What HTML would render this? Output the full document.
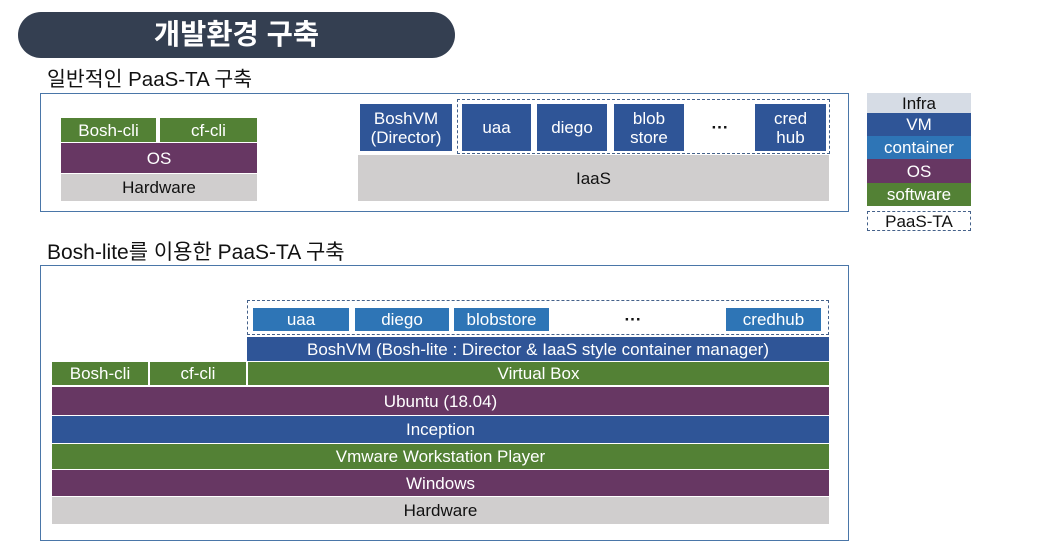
<!DOCTYPE html>
<html><head><meta charset="utf-8"><style>
body{margin:0;width:1063px;height:560px;background:#fff;position:relative;overflow:hidden;font-family:"Liberation Sans","Noto Sans CJK KR",sans-serif;}
div{position:absolute;box-sizing:border-box;}
.b{display:flex;align-items:center;justify-content:center;text-align:center;color:#fff;font-size:17px;line-height:19px;}
.g{background:#538135}.p{background:#673763}.gr{background:#d0cece;color:#111}.v{background:#2f5597}.c{background:#2e75b6}
.d{border:1.5px dashed #44618a}
</style></head><body>
<div class="b" style="left:18px;top:12px;width:437px;height:46px;border-radius:23px;background:#343f51;font-size:28.5px;font-weight:bold;">개발환경 구축</div>
<div style="left:47px;top:62px;font-size:20.5px;color:#111">일반적인 PaaS-TA 구축</div>
<div style="left:40px;top:93px;width:809px;height:119px;border:1.5px solid #4a76a8"></div>
<div class="b g" style="left:61px;top:118px;width:95px;height:24px">Bosh-cli</div>
<div class="b g" style="left:160px;top:118px;width:97px;height:24px">cf-cli</div>
<div class="b p" style="left:61px;top:143px;width:196px;height:30px">OS</div>
<div class="b gr" style="left:61px;top:174px;width:196px;height:27px">Hardware</div>
<div class="b v" style="left:360px;top:104px;width:92px;height:47px">BoshVM<br>(Director)</div>
<div class="d" style="left:457px;top:99px;width:373px;height:55px"></div>
<div class="b v" style="left:462px;top:104px;width:69px;height:47px">uaa</div>
<div class="b v" style="left:537px;top:104px;width:70px;height:47px">diego</div>
<div class="b v" style="left:614px;top:104px;width:70px;height:47px">blob<br>store</div>
<div class="b" style="left:690px;top:104px;width:60px;height:47px;color:#111;font-weight:bold">···</div>
<div class="b v" style="left:755px;top:104px;width:71px;height:47px">cred<br>hub</div>
<div class="b gr" style="left:358px;top:155px;width:471px;height:46px">IaaS</div>
<div class="b" style="left:867px;top:93px;width:104px;height:20px;background:#d6dce5;color:#111">Infra</div>
<div class="b v" style="left:867px;top:113px;width:104px;height:23px">VM</div>
<div class="b c" style="left:867px;top:136px;width:104px;height:23px">container</div>
<div class="b p" style="left:867px;top:159px;width:104px;height:24px">OS</div>
<div class="b g" style="left:867px;top:183px;width:104px;height:23px">software</div>
<div class="b d" style="left:867px;top:211px;width:104px;height:20px;color:#111">PaaS-TA</div>
<div style="left:47px;top:236px;font-size:21px;color:#111">Bosh-lite를 이용한 PaaS-TA 구축</div>
<div style="left:40px;top:265px;width:809px;height:276px;border:1.5px solid #4a76a8"></div>
<div class="d" style="left:247px;top:300px;width:582px;height:35px"></div>
<div class="b c" style="left:253px;top:308px;width:96px;height:23px">uaa</div>
<div class="b c" style="left:355px;top:308px;width:94px;height:23px">diego</div>
<div class="b c" style="left:454px;top:308px;width:95px;height:23px">blobstore</div>
<div class="b" style="left:600px;top:308px;width:66px;height:23px;color:#111;font-weight:bold">···</div>
<div class="b c" style="left:726px;top:308px;width:95px;height:23px">credhub</div>
<div class="b v" style="left:247px;top:337px;width:582px;height:24px">BoshVM (Bosh-lite : Director &amp; IaaS style container manager)</div>
<div class="b g" style="left:52px;top:362px;width:96px;height:23px">Bosh-cli</div>
<div class="b g" style="left:150px;top:362px;width:96px;height:23px">cf-cli</div>
<div class="b g" style="left:248px;top:362px;width:581px;height:23px">Virtual Box</div>
<div class="b p" style="left:52px;top:387px;width:777px;height:28px">Ubuntu (18.04)</div>
<div class="b v" style="left:52px;top:416px;width:777px;height:27px">Inception</div>
<div class="b g" style="left:52px;top:444px;width:777px;height:25px">Vmware Workstation Player</div>
<div class="b p" style="left:52px;top:470px;width:777px;height:26px">Windows</div>
<div class="b gr" style="left:52px;top:497px;width:777px;height:27px">Hardware</div>
</body></html>
